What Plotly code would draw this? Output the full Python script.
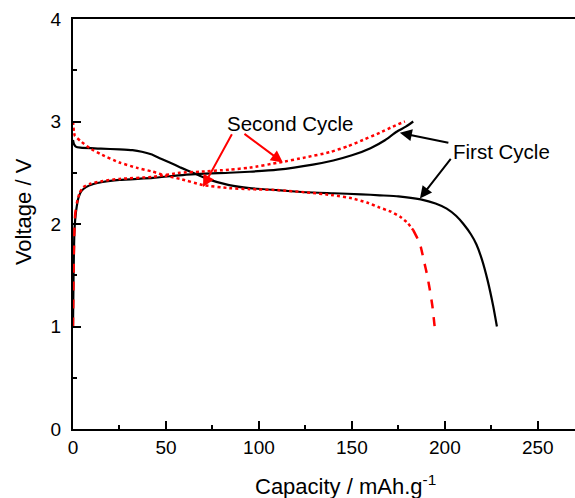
import plotly.graph_objects as go

# First cycle (black, solid)
cap1_dis = [0, 0.5, 1.5, 4, 15, 25, 32, 37, 42, 47, 52, 58, 64.5, 72, 84, 95, 110, 125, 140, 155, 165, 175, 187, 195, 201, 206, 210, 214, 217, 220, 223, 226, 228]
v1_dis = [2.82, 2.78, 2.755, 2.745, 2.735, 2.728, 2.72, 2.705, 2.68, 2.64, 2.60, 2.55, 2.50, 2.44, 2.38, 2.35, 2.33, 2.31, 2.30, 2.29, 2.28, 2.27, 2.24, 2.20, 2.15, 2.08, 2.00, 1.90, 1.80, 1.65, 1.45, 1.20, 1.00]
cap1_chg = [0, 0.3, 0.7, 1.2, 2, 3, 4.5, 7, 11, 16, 25, 43, 60, 84, 95, 110, 129, 140, 150, 160, 168, 174, 179, 183]
v1_chg = [1.0, 1.5, 1.9, 2.05, 2.17, 2.26, 2.32, 2.36, 2.39, 2.41, 2.43, 2.45, 2.48, 2.50, 2.51, 2.53, 2.58, 2.62, 2.67, 2.74, 2.82, 2.90, 2.95, 3.00]

# Second cycle (red, dotted)
cap2_dis = [0, 0.5, 1, 4, 9, 15, 25, 34, 43, 50, 57.5, 70, 84, 95, 111, 125, 140, 150, 158, 165, 171, 176, 180, 183]
v2_dis = [3.0, 2.9, 2.86, 2.81, 2.74, 2.68, 2.60, 2.55, 2.51, 2.47, 2.44, 2.38, 2.35, 2.34, 2.33, 2.31, 2.28, 2.25, 2.21, 2.16, 2.12, 2.07, 2.01, 1.94]
cap2_dis_tail = [183, 185.5, 187, 189, 190.5, 192, 193.3, 194.5]
v2_dis_tail = [1.94, 1.85, 1.78, 1.62, 1.50, 1.35, 1.20, 1.00]
cap2_chg_head = [0, 0.3, 0.7, 1.2, 2]
v2_chg_head = [1.0, 1.5, 1.9, 2.1, 2.2]
cap2_chg = [2, 3.5, 5.5, 9, 16, 25, 43, 57.5, 68, 84, 95, 111, 125, 138, 148, 156, 165, 172, 178.5]
v2_chg = [2.2, 2.30, 2.36, 2.39, 2.42, 2.44, 2.46, 2.50, 2.51, 2.53, 2.55, 2.60, 2.65, 2.70, 2.76, 2.82, 2.89, 2.95, 3.0]

x_ticks = [0, 50, 100, 150, 200, 250]
y_ticks = [0, 1, 2, 3, 4]

FONT = "Liberation Sans, Arial, sans-serif"
RED = "#ff0000"

fig = go.Figure()
for cx, vy in [(cap1_dis, v1_dis), (cap1_chg, v1_chg)]:
    fig.add_trace(go.Scatter(x=cx, y=vy, mode="lines", line=dict(color="black", width=2.2, shape="spline", smoothing=0.5), showlegend=False, hoverinfo="skip"))
for cx, vy, d in [(cap2_dis, v2_dis, "dot"), (cap2_dis_tail, v2_dis_tail, "dash"), (cap2_chg_head, v2_chg_head, "dash"), (cap2_chg, v2_chg, "dot")]:
    fig.add_trace(go.Scatter(x=cx, y=vy, mode="lines", line=dict(color=RED, width=2.5, dash=d, shape="spline", smoothing=0.5), showlegend=False, hoverinfo="skip"))

def arrow(head, tail, color):
    fig.add_annotation(x=head[0], y=head[1], ax=tail[0], ay=tail[1], xref="x", yref="y", axref="x", ayref="y",
                       text="", showarrow=True, arrowhead=2, arrowsize=1.2, arrowwidth=2, arrowcolor=color)

arrow((69.9, 2.36), (85.9, 2.89), RED)
arrow((112.9, 2.60), (91.4, 2.89), RED)
arrow((175.8, 2.89), (202.7, 2.79), "black")
arrow((186.6, 2.25), (203.8, 2.65), "black")

fig.add_annotation(x=116.7, y=2.985, xref="x", yref="y", text="Second Cycle", showarrow=False, font=dict(family=FONT, size=20.5, color="black"))
fig.add_annotation(x=230.6, y=2.71, xref="x", yref="y", text="First Cycle", showarrow=False, font=dict(family=FONT, size=20.5, color="black"))

# axis titles
fig.add_annotation(x=0.542, y=-0.136, xref="paper", yref="paper", xanchor="center", yanchor="middle",
                   text="Capacity / mAh.g<sup>-1</sup>", showarrow=False, font=dict(family=FONT, size=22, color="black"))
fig.add_annotation(x=-0.0996, y=0.529, xref="paper", yref="paper", xanchor="center", yanchor="middle", textangle=-90,
                   text="Voltage / V", showarrow=False, font=dict(family=FONT, size=22, color="black"))

fig.update_xaxes(range=[0, 270], tickvals=x_ticks, ticks="inside", ticklen=8, tickwidth=1.5, tickcolor="black",
                 minor=dict(dtick=25, tick0=0, ticks="inside", ticklen=4, tickwidth=1.5, tickcolor="black"),
                 showline=True, linecolor="black", linewidth=2, mirror=True, showgrid=False, zeroline=False,
                 tickfont=dict(family=FONT, size=19, color="black"))
fig.update_yaxes(range=[0, 4], tickvals=y_ticks, ticks="inside", ticklen=8, tickwidth=1.5, tickcolor="black",
                 minor=dict(dtick=0.5, tick0=0, ticks="inside", ticklen=4, tickwidth=1.5, tickcolor="black"),
                 showline=True, linecolor="black", linewidth=2, showgrid=False, zeroline=False,
                 ticklabelstandoff=6,
                 tickfont=dict(family=FONT, size=19, color="black"))
fig.update_layout(width=575, height=498, margin=dict(l=73, r=0, t=19, b=69),
                  plot_bgcolor="white", paper_bgcolor="white", showlegend=False)
fig.write_html("out.html")
